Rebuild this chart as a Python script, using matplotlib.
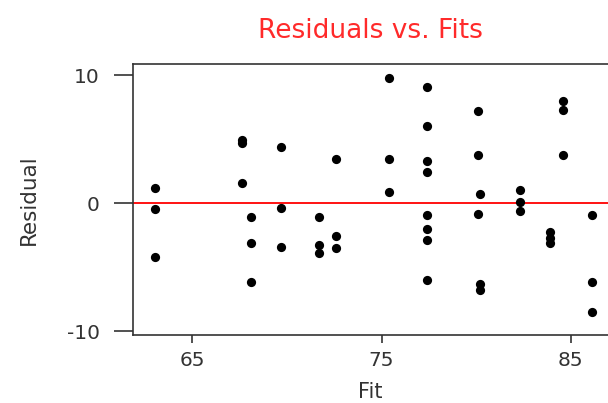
import matplotlib
matplotlib.use("Agg")
import matplotlib.pyplot as plt

plt.rcParams["axes.unicode_minus"] = False

# fitted values and residuals
fits = [63.0, 63.0, 63.0,
        67.6, 67.6, 67.6,
        68.1, 68.1, 68.1,
        69.7, 69.7, 69.7,
        71.7, 71.7, 71.7,
        72.6, 72.6, 72.6,
        75.4, 75.4, 75.4,
        77.4, 77.4, 77.4, 77.4, 77.4, 77.4, 77.4, 77.4,
        80.1, 80.1, 80.1, 80.2, 80.2, 80.2,
        82.3, 82.3, 82.3,
        83.9, 83.9, 83.9,
        84.6, 84.6, 84.6,
        86.1, 86.1, 86.1]
residuals = [1.15, -0.45, -4.2,
             4.95, 4.65, 1.55,
             -1.1, -3.15, -6.15,
             4.4, -0.35, -3.4,
             -1.1, -3.3, -3.9,
             3.4, -2.6, -3.5,
             9.75, 3.4, 0.85,
             9.05, 6.0, 3.3, 2.45, -0.95, -2.05, -2.85, -6.0,
             7.15, 3.75, -0.85, 0.7, -6.35, -6.8,
             1.0, 0.1, -0.6,
             -2.3, -2.7, -3.15,
             8.0, 7.3, 3.75,
             -0.9, -6.15, -8.55]

xticks = [65, 75, 85]
yticks = [-10, 0, 10]

fig = plt.figure(figsize=(6.08, 4.03), dpi=100)
ax = fig.add_axes([133 / 608, 1 - 335 / 403, 1 - 133 / 608, (335 - 64) / 403])

ax.scatter(fits, residuals, s=44, color="black", zorder=3, linewidths=0)
ax.axhline(0, color="#ff0000", lw=1.3, zorder=2)

ax.set_xlim(61.86, 86.97)
ax.set_ylim(-10.31, 10.86)
ax.set_xticks(xticks)
ax.set_yticks(yticks)

for side in ["left", "bottom", "top"]:
    ax.spines[side].set_color("#333333")
    ax.spines[side].set_linewidth(1.2)
ax.spines["right"].set_visible(False)

ax.tick_params(axis="y", length=14, width=1.2, color="#333333", pad=10,
               labelsize=14.5, labelcolor="#333333")
ax.tick_params(axis="x", length=5.5, width=1.2, color="#333333", pad=6,
               labelsize=14.5, labelcolor="#333333")

ax.set_title("Residuals vs. Fits", color="#ff2a2a", fontsize=19, pad=19)
ax.set_xlabel("Fit", fontsize=15, color="#333333")
ax.set_ylabel("Residual", fontsize=15.5, color="#333333")
ax.xaxis.set_label_coords(0.5, -0.172)
ax.yaxis.set_label_coords(-0.198, 0.5)

fig.savefig("out.png", dpi=100)
